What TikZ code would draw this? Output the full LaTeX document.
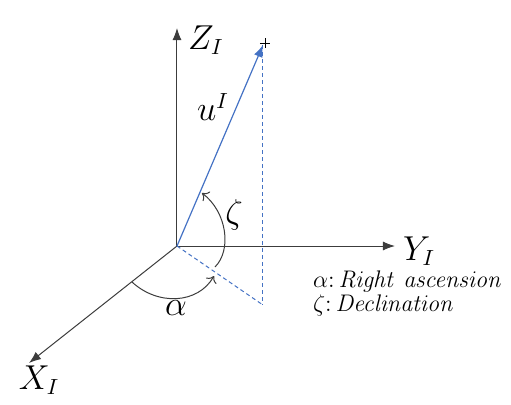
\documentclass[tikz,border=0pt]{standalone}
\usetikzlibrary{arrows.meta}
\definecolor{vecblue}{RGB}{68,114,196}
\definecolor{axisgray}{RGB}{60,60,60}
\tikzset{
	axis/.style={draw=axisgray,line width=0.5pt,-{Latex[length=6pt,width=4.5pt]}},
	proj/.style={draw=vecblue,line width=0.5pt,dashed,dash pattern=on 2pt off 1.5pt},
	angarc/.style={draw=axisgray,line width=0.5pt,-{To[length=3pt,width=6pt]}},
	lbl/.style={font=\fontsize{16}{18}\selectfont},
	legend/.style={font=\fontsize{12}{14}\selectfont,anchor=west}
}
\begin{document}
	\begin{tikzpicture}[x=0.5pt,y=-0.5pt]
		\useasboundingbox (0,0) rectangle (511,404);
		\coordinate (O) at (177,246);
		\coordinate (Z) at (177,28);
		\coordinate (Y) at (395,246);
		\coordinate (X) at (29,363);
		\coordinate (U) at (263,45);
		\coordinate (P) at (263,305);
		% axes
		\draw[axis] (O) -- (Z);
		\draw[axis] (O) -- (Y);
		\draw[axis] (O) -- (X);
		% vector and projection
		\draw[proj] (U) -- (P);
		\draw[proj] (O) -- (P);
		\draw[vecblue,line width=0.6pt,-{Latex[length=6pt,width=4.5pt]}] (O) -- (U);
		\draw[line width=0.45pt] (260,43) -- (270,43) (265,38) -- (265,48);
		% angles
		\draw[angarc] (132,282) .. controls (158,306) and (198,304) .. (214,276);
		\draw[angarc] (215,267) .. controls (232,250) and (227,212) .. (202,193);
		\path
		(181,40) node[lbl,anchor=west]{$Z_I$}
		(396,251) node[lbl,anchor=west]{$Y_I$}
		(39,380) node[lbl]{$X_I$}
		(213,107) node[lbl]{$u^I$}
		(234,215) node[lbl]{$\zeta$}
		(176,308) node[lbl]{$\alpha$}
		(306,281) node[legend]{$\alpha{:}\,\mathit{Right\ ascension}$}
		(306,305) node[legend]{$\zeta{:}\,\mathit{Declination}$}
		;
	\end{tikzpicture}
\end{document}
